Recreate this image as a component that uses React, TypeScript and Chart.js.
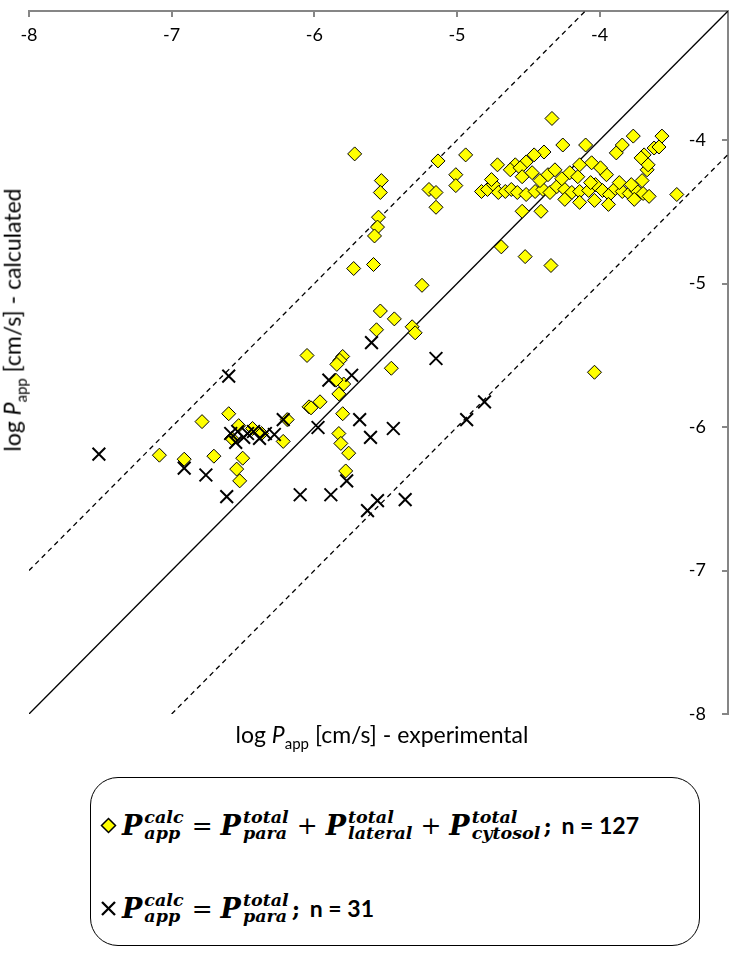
import React, { useEffect, useRef } from "react";
import { Chart, registerables } from "chart.js";
Chart.register(...registerables);

// ---- data (log Papp, experimental vs calculated) ----
const diamondX = [
  -4.334, -3.764, -4.098, -4.258, -4.390, -4.459, -4.515, -4.591, -4.626, -4.716, -4.557,
  -4.828, -4.786, -4.744, -4.710, -4.661, -4.619, -4.577, -4.515, -4.452, -4.397, -4.348,
  -4.300, -4.244, -4.195, -4.140, -4.077, -4.029, -3.980, -3.931, -3.890, -3.841, -3.792,
  -3.743, -3.695, -3.653, -4.758, -4.543, -4.473, -4.418, -4.362, -4.313, -4.265, -4.209,
  -4.153, -4.063, -3.952, -3.862, -3.778, -3.702, -3.667, -3.994, -3.883, -3.841, -3.688,
  -3.660, -3.618, -3.563, -3.584, -3.709, -4.056, -4.140, -4.543, -4.411, -4.140, -3.938,
  -4.244, -4.036, -3.757, -4.341, -4.522, -4.689, -3.459, -4.036,
  -5.717, -5.133, -4.939, -5.008, -5.008, -5.196, -5.147, -5.147, -5.530, -5.537, -5.550,
  -5.557, -5.578, -5.585, -5.724, -5.245, -5.537, -5.564, -5.439, -5.314, -5.293, -5.460,
  -6.051,
  -5.801, -5.821, -5.842, -5.794, -5.849, -5.828, -5.801, -5.960, -6.037, -5.828,
  -7.086, -6.912, -6.787, -6.704, -6.600, -6.530, -6.579, -6.544, -6.523, -6.502, -6.433,
  -6.370, -6.218, -6.190, -6.023, -5.780, -5.759, -5.814,
];
const diamondY = [
  -3.849, -3.972, -4.034, -4.034, -4.083, -4.103, -4.152, -4.172, -4.207, -4.172, -4.193,
  -4.358, -4.344, -4.310, -4.365, -4.358, -4.344, -4.365, -4.379, -4.358, -4.344, -4.365,
  -4.324, -4.344, -4.365, -4.358, -4.351, -4.310, -4.351, -4.379, -4.337, -4.358, -4.372,
  -4.351, -4.372, -4.392, -4.275, -4.255, -4.227, -4.282, -4.241, -4.207, -4.269, -4.227,
  -4.255, -4.296, -4.241, -4.296, -4.310, -4.282, -4.207, -4.193, -4.089, -4.034, -4.103,
  -4.172, -4.055, -3.972, -4.048, -4.124, -4.158, -4.172, -4.496, -4.496, -4.434, -4.448,
  -4.413, -4.420, -4.413, -4.874, -4.812, -4.744, -4.379, -5.618,
  -4.096, -4.145, -4.103, -4.241, -4.317, -4.344, -4.468, -4.365, -4.282, -4.365, -4.537,
  -4.606, -4.668, -4.867, -4.895, -5.012, -5.191, -5.322, -5.246, -5.301, -5.343, -5.590,
  -5.501,
  -5.508, -5.535, -5.563, -5.700, -5.673, -5.769, -5.907, -5.824, -5.859, -6.045,
  -6.196, -6.224, -5.962, -6.203, -5.907, -5.990, -6.079, -6.293, -6.375, -6.217, -6.010,
  -6.045, -6.100, -5.948, -5.866, -6.306, -6.182, -6.114,
];
const crossX = [
  -7.510, -6.912, -6.760, -6.614, -6.600, -6.586, -6.537, -6.495, -6.468, -6.426, -6.384,
  -6.343, -6.280, -6.551, -6.218, -6.099, -5.974, -5.884, -5.898, -5.738, -5.599, -5.773,
  -5.682, -5.606, -5.627, -5.557, -5.446, -5.363, -5.147, -4.932, -4.807,
];
const crossY = [
  -6.189, -6.286, -6.334, -6.485, -5.645, -6.045, -6.031, -6.072, -6.045, -6.031, -6.079,
  -6.045, -6.052, -6.107, -5.948, -6.472, -6.003, -6.472, -5.673, -5.639, -5.411, -6.375,
  -5.948, -6.072, -6.582, -6.513, -6.010, -6.506, -5.522, -5.948, -5.824,
];
const axisMin = -8;
const axisMax = -3.1;
const tickValues = [-8, -7, -6, -5, -4];
const lineOffsets = [0, 1, -1]; // y = x + offset

const toPoints = (xs: number[], ys: number[]) => xs.map((x, i) => ({ x, y: ys[i] }));
const linePoints = (o: number) =>
  o >= 0
    ? [{ x: axisMin, y: axisMin + o }, { x: axisMax - o, y: axisMax }]
    : [{ x: axisMin - o, y: axisMin }, { x: axisMax, y: axisMax + o }];

const AXIS_GREY = "#868686";
const TICK_FONT = { family: "Lato", size: 18 };

function PSym({ sup, sub }: { sup: string; sub: string }) {
  return (
    <span style={{ display: "inline-flex", alignItems: "center" }}>
      <span style={{ fontSize: 27 }}>P</span>
      <span
        style={{
          display: "inline-flex",
          flexDirection: "column",
          fontSize: 17.5,
          lineHeight: "16px",
          marginLeft: 2,
        }}
      >
        <span>{sup}</span>
        <span>{sub}</span>
      </span>
    </span>
  );
}

const mathStyle: React.CSSProperties = {
  fontFamily: "'DejaVu Serif', serif",
  fontStyle: "italic",
  fontWeight: "bold",
  display: "inline-flex",
  alignItems: "center",
};
const op: React.CSSProperties = { fontStyle: "normal", fontWeight: "normal", fontSize: 25, margin: "0 8px" };
const nStyle: React.CSSProperties = { fontFamily: "Lato", fontWeight: "bold", fontSize: 23, marginLeft: 4 };
const semi: React.CSSProperties = { fontStyle: "normal", fontSize: 23, marginLeft: 3 };

export default function App() {
  const ref = useRef<HTMLCanvasElement>(null);
  useEffect(() => {
    const chart = new Chart(ref.current!, {
      type: "scatter",
      data: {
        datasets: [
          {
            data: toPoints(crossX, crossY),
            pointStyle: "crossRot",
            pointRadius: 9,
            borderColor: "#000",
            borderWidth: 2,
            backgroundColor: "#000",
          },
          {
            data: toPoints(diamondX, diamondY),
            pointStyle: "rectRot",
            pointRadius: 7,
            backgroundColor: "#FFFF00",
            borderColor: "#000",
            borderWidth: 1,
          },
          ...lineOffsets.map((o) => ({
            type: "line" as const,
            data: linePoints(o),
            borderColor: "#000",
            borderWidth: 1.3,
            borderDash: o === 0 ? [] : [5, 4],
            pointRadius: 0,
            fill: false,
          })),
        ],
      },
      options: {
        animation: false,
        responsive: false,
        layout: { padding: { left: 29, right: 0, top: 0, bottom: 36 } },
        plugins: { legend: { display: false }, tooltip: { enabled: false } },
        scales: {
          x: {
            type: "linear",
            position: "top",
            min: axisMin,
            max: axisMax,
            afterBuildTicks: (s: any) => {
              s.ticks = tickValues.map((v) => ({ value: v }));
            },
            afterFit: (s: any) => {
              s.height = 4;
              s.paddingLeft = 0;
              s.paddingRight = 0;
            },
            grid: { drawOnChartArea: false, drawTicks: true, tickLength: -6, color: AXIS_GREY, lineWidth: 2 },
            border: { display: true, color: AXIS_GREY, width: 2 },
            ticks: { mirror: true, padding: 13, font: TICK_FONT, color: "#000" },
          },
          y: {
            type: "linear",
            position: "right",
            min: axisMin,
            max: axisMax,
            afterBuildTicks: (s: any) => {
              s.ticks = tickValues.map((v) => ({ value: v }));
            },
            afterFit: (s: any) => {
              s.width = 4;
              s.paddingTop = 0;
              s.paddingBottom = 0;
            },
            grid: { drawOnChartArea: false, drawTicks: true, tickLength: -6, color: AXIS_GREY, lineWidth: 2 },
            border: { display: true, color: AXIS_GREY, width: 2 },
            ticks: { mirror: true, padding: -22, font: TICK_FONT, color: "#000" },
          },
        },
      } as any,
    });
    return () => chart.destroy();
  }, []);

  return (
    <div style={{ position: "absolute", left: 0, top: 0, width: 739, height: 960, background: "#fff" }}>
      <canvas ref={ref} width={739} height={750} style={{ position: "absolute", left: 0, top: 0 }} />
      <div
        style={{
          position: "absolute",
          left: 0,
          width: 764,
          top: 720,
          textAlign: "center",
          fontFamily: "Lato",
          fontSize: 23,
          lineHeight: "28px",
          whiteSpace: "nowrap",
        }}
      >
        log <i>P</i>
        <sub style={{ fontSize: 15 }}>app</sub> [cm/s] - experimental
      </div>
      <div
        style={{
          position: "absolute",
          left: 16,
          top: 320,
          transform: "translate(-50%, -50%) rotate(-90deg)",
          fontFamily: "Lato",
          fontSize: 23,
          lineHeight: "28px",
          whiteSpace: "nowrap",
        }}
      >
        log <i>P</i>
        <sub style={{ fontSize: 15 }}>app</sub> [cm/s] - calculated
      </div>
      <div
        style={{
          position: "absolute",
          left: 90,
          top: 777,
          width: 610,
          height: 169,
          border: "1.3px solid #000",
          borderRadius: 28,
          boxSizing: "border-box",
        }}
      >
        <div style={{ position: "absolute", left: 9, top: 26, display: "flex", alignItems: "center", height: 42 }}>
          <svg width="17" height="17" style={{ marginRight: 5 }}>
            <polygon points="8.5,1.5 15.5,8.5 8.5,15.5 1.5,8.5" fill="#FFFF00" stroke="#000" strokeWidth="1.5" />
          </svg>
          <span style={mathStyle}>
            <PSym sup="calc" sub="app" />
            <span style={op}>=</span>
            <PSym sup="total" sub="para" />
            <span style={op}>+</span>
            <PSym sup="total" sub="lateral" />
            <span style={op}>+</span>
            <PSym sup="total" sub="cytosol" />
            <span style={semi}>;</span>
          </span>
          <span style={nStyle}>&nbsp;n = 127</span>
        </div>
        <div style={{ position: "absolute", left: 9, top: 109, display: "flex", alignItems: "center", height: 42 }}>
          <svg width="17" height="17" style={{ marginRight: 5 }}>
            <line x1="2" y1="2" x2="15" y2="15" stroke="#000" strokeWidth="2.3" />
            <line x1="15" y1="2" x2="2" y2="15" stroke="#000" strokeWidth="2.3" />
          </svg>
          <span style={mathStyle}>
            <PSym sup="calc" sub="app" />
            <span style={op}>=</span>
            <PSym sup="total" sub="para" />
            <span style={semi}>;</span>
          </span>
          <span style={nStyle}>&nbsp;n = 31</span>
        </div>
      </div>
    </div>
  );
}
